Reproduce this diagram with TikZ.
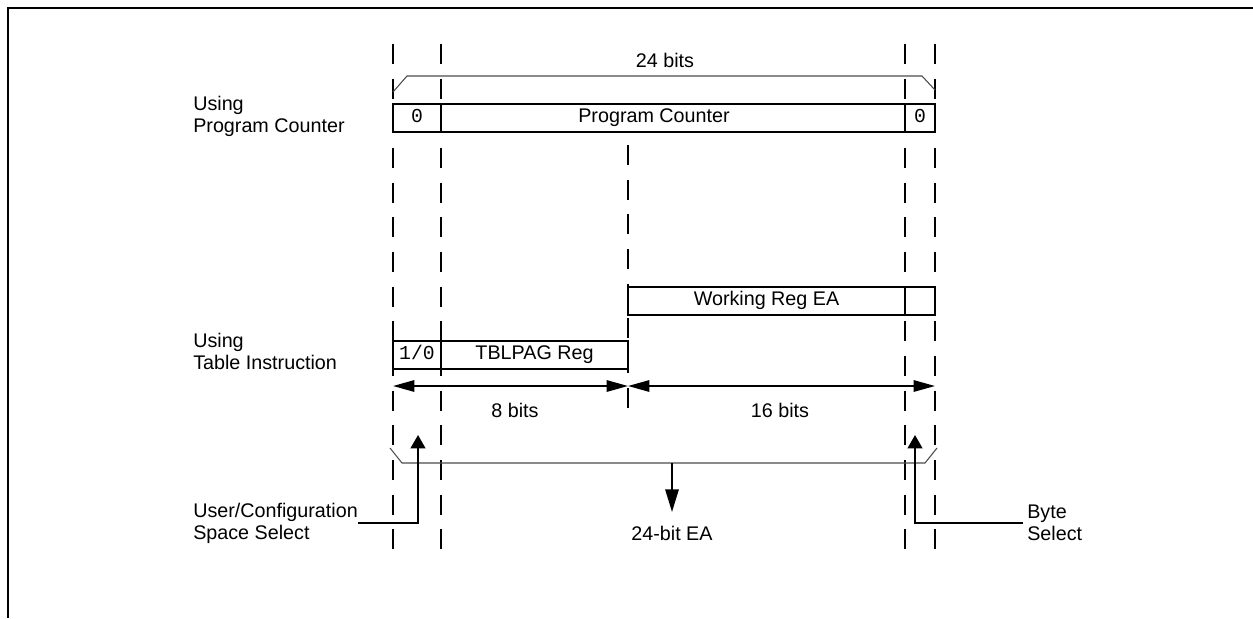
\documentclass[tikz,border=0pt]{standalone}
\usepackage{fontspec}
\setmainfont{Liberation Sans}
\setmonofont{Liberation Mono}
\usetikzlibrary{arrows.meta,positioning}

\begin{document}
\begin{tikzpicture}[
  x=0.75pt, y=-0.75pt,
  font=\fontsize{14.8}{16.5}\selectfont,
  field/.style={rectangle, draw, line width=1.6pt, fill=white, inner sep=0pt,
                minimum height=21pt, text height=0.72em, text depth=0pt},
  guide/.style={dash pattern=on 15pt off 11pt, line width=1.9pt},
  brace/.style={draw=black!70, line width=0.8pt},
  dimarrow/.style={{Triangle[length=16pt,width=8.5pt]}-{Triangle[length=16pt,width=8.5pt]},
                   line width=1.5pt},
  selarrow/.style={-{Triangle[length=10pt,width=11pt]}, line width=1.5pt},
  downarrow/.style={-{Triangle[length=17pt,width=10pt]}, line width=1.5pt},
  sidetext/.style={align=left, anchor=west, inner sep=0pt},
]
\useasboundingbox (0,0) rectangle (1253,618);

% Frame (top and left edges only)
\draw[line width=2pt] (8,618) -- (8,8) -- (1253,8);

% Dashed bit-boundary guides
\foreach \x in {393,441,905,935} {\draw[guide] (\x,44) -- (\x,557);}
\draw[guide] (628,145) -- (628,415);

% 24 bits span
\node (top24) at (665,60) {24 bits};
\draw[brace] (393,92) -- (407,76) -- (922,76) -- (935,90);

% Program counter word
\node[field, minimum width=36pt]    (pcz) at (417,118) {\ttfamily 0};
\node[field, minimum width=348pt]   (pcm) at (673,118) {};
\node[field, draw=none, fill=none]  (pct) at (654,118) {Program Counter};
\node[field, minimum width=22.5pt]  (pcb) at (920,118) {\ttfamily 0};

% Working register EA
\node[field, minimum width=207.75pt] (wre) at (766.5,301) {Working Reg EA};
\node[field, minimum width=22.5pt]   (wrb) at (920,301) {};

% TBLPAG register
\node[field, minimum width=36pt]     (tbs) at (417,355) {\ttfamily 1/0};
\node[field, minimum width=140.25pt] (tbp) at (534.5,355) {TBLPAG Reg};

% Left-hand captions
\node[sidetext] (usepc) at (193,116) {Using\\Program Counter};
\node[sidetext] (usetb) at (193,351) {Using\\Table Instruction};
\node[sidetext] (usel)  at (193,523) {User/Configuration\\Space Select};
\node[sidetext] (bsel)  at (1027,523) {Byte\\Select};

% 8 / 16 bit widths
\coordinate (d8l)  at (393,386);
\coordinate (d8r)  at (628,386);
\coordinate (d16r) at (935,386);
\draw[dimarrow] (d8l) -- (d8r);
\draw[dimarrow] (d8r) -- (d16r);
\node (b8)  at (515,410) {8 bits};
\node (b16) at (780,410) {16 bits};

% Resulting 24-bit EA
\draw[brace] (390,448) -- (402,463) -- (925,463) -- (937,448);
\coordinate (bmid)  at (672,463);
\coordinate (eatip) at (672,512);
\node (ea) at (672,533) {24-bit EA};
\draw[downarrow] (bmid) -- (eatip);

% Select bits
\coordinate (useltip) at (418,435);
\coordinate (bseltip) at (915,435);
\draw[selarrow] (usel.east) -- (useltip |- usel.east) -- (useltip);
\draw[selarrow, shorten <=3pt] (bsel.west) -- (bseltip |- bsel.west) -- (bseltip);

\end{tikzpicture}
\end{document}
